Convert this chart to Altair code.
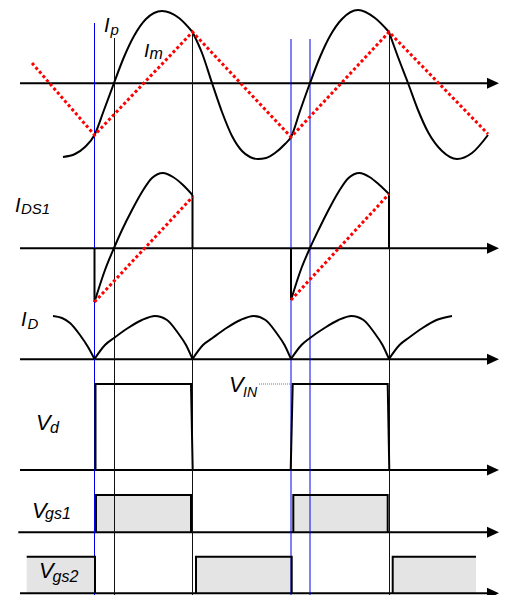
import altair as alt
import pandas as pd

# ---------------- data (diagram units: t = time, v = level, screen-down) -------------
# resonant current Ir, three smooth pieces (kinks where Im peaks)
IR_SEG1 = [(63, 157), (75, 154), (85, 147), (94.5, 135), (104, 110), (114, 83), (124, 57),
           (134, 36), (146, 19), (162, 11), (179, 18), (192.5, 32)]
IR_SEG2 = [(192.5, 32), (202, 53), (212, 83), (222, 112), (232, 136), (242, 151), (250, 157),
           (258, 159), (266, 158), (275, 153), (285, 144), (291, 137), (300, 111), (310, 83),
           (320, 57), (330, 36), (342, 19), (358, 10), (375, 18), (389, 32)]
IR_SEG3 = [(389, 32), (398, 57), (408, 83), (418, 110), (428, 132), (442, 151), (457, 159),
           (472, 153), (488, 135)]
# magnetizing current Im (triangle)
IM = [(32, 63), (94.5, 135), (192.5, 32), (291, 137), (389, 32), (488, 134)]

# switch current IDS1
IDS1_SEG1 = [(94.5, 302), (105, 270), (114, 248), (122, 230), (132, 210), (142, 192),
             (152, 178), (163, 173), (173, 177), (183, 185), (192.5, 195)]
IDS1_SEG2 = [(291, 300), (301.5, 268), (310, 248), (318.5, 230), (328.5, 210), (338.5, 192),
             (348.5, 178), (359.5, 173), (369.5, 177), (379.5, 185), (389, 194)]
IDS1_EDGES = [[(94.5, 248), (94.5, 302)], [(192.5, 195), (192.5, 248)],
              [(291, 248), (291, 300)], [(389, 194), (389, 248)]]
IDS1_IM = [[(94.5, 302), (192.5, 197)], [(291, 300), (389, 194)]]

# rectifier current ID
ID_SEG0 = [(53, 316), (62, 318), (70, 323), (80, 335), (88, 347), (94.5, 359)]
ID_SEG1 = [(94.5, 359), (105, 345), (114, 338), (128, 328), (142, 320), (155, 316),
           (167, 320), (178, 333), (186, 345), (192.5, 359)]
ID_SEG2 = [(192.5, 359), (203, 345), (212.5, 338), (226.5, 328), (240.5, 320), (253.5, 316),
           (265.5, 320), (276.5, 333), (284.5, 345), (291, 359)]
ID_SEG3 = [(291, 359), (301.5, 345), (310, 338), (324.5, 328), (338.5, 320), (351.5, 316),
           (363.5, 320), (374.5, 333), (382.5, 345), (389, 359)]
ID_SEG4 = [(389, 359), (399.5, 345), (408.5, 338), (422.5, 328), (436.5, 320), (452, 316)]

# drain voltage Vd
VD_1 = [(95.5, 470), (95.5, 384), (191, 384), (192.7, 470)]
VD_2 = [(290.7, 470), (292.7, 384), (387.7, 384), (389.3, 470)]
VIN_LEADER = [(259, 384), (292, 384)]

# gate drives
VGS1_ON = [(96, 191), (293.3, 387.7)]
VGS1_HIGH, VGS1_LOW = 495, 532.3
VGS2_ON = [(26.7, 95), (196, 291.7), (392.7, 476)]
VGS2_HIGH, VGS2_LOW = 556.7, 593.3
VGS1_OUT = [[(96, 532.3), (96, 495), (191, 495), (191, 532.3)],
            [(293.3, 532.3), (293.3, 495), (387.7, 495), (387.7, 532.3)]]
VGS2_OUT = [[(26.7, 556.7), (95, 556.7), (95, 593.3)],
            [(196, 593.3), (196, 556.7), (291.7, 556.7), (291.7, 593.3)],
            [(392.7, 593.3), (392.7, 556.7), (476, 556.7)]]

# time axes (baselines) of each trace
AXIS_LEVEL = [83.3, 248.3, 359.3, 470, 532.3, 593.3]
AXIS_START = [20, 20, 20, 20, 18.3, 20]
AXIS_END = 488
ARROW_AT = 493

# event markers
MARK_T = [94.5, 114.5, 192.5, 291, 310, 389.5]
MARK_TOP = [23, 38, 32, 39, 39, 32]
MARK_COLOR = ["#0000ee", "#111111", "#111111", "#0000ee", "#0000ee", "#111111"]
MARK_BOTTOM = 603

# labels: main letter, x, baseline, size | subscript, x, baseline, size
LABELS = [
    ("I", 104, 32, 20, "p", 110.5, 35, 15),
    ("I", 144, 57, 19, "m", 149.5, 59, 16),
    ("I", 15, 212, 20, "DS1", 21, 214, 15),
    ("I", 21, 326, 20, "D", 27.5, 329, 15),
    ("V", 36, 430, 22, "d", 50, 433, 16),
    ("V", 229, 392, 22, "IN", 243, 397, 14),
    ("V", 32, 518, 22, "gs1", 45, 519, 16),
    ("V", 39, 578, 22, "gs2", 52.5, 582, 16),
]

# ---------------- tables ----------------
def seg_table(segs, prefix):
    rows = []
    for k, seg in enumerate(segs):
        for i, (t, v) in enumerate(seg):
            rows.append({"seg": f"{prefix}{k}", "i": i, "t": t, "v": v})
    return pd.DataFrame(rows)

smooth = seg_table([IR_SEG1, IR_SEG2, IR_SEG3, IDS1_SEG1, IDS1_SEG2,
                    ID_SEG0, ID_SEG1, ID_SEG2, ID_SEG3, ID_SEG4], "s")
poly = seg_table(IDS1_EDGES + [VD_1, VD_2] + VGS1_OUT + VGS2_OUT, "p")
red = seg_table([IM] + IDS1_IM, "r")
leader = seg_table([VIN_LEADER], "l")

fills = pd.DataFrame(
    [{"t": a, "t2": b, "v": VGS1_HIGH, "v2": VGS1_LOW} for a, b in VGS1_ON]
    + [{"t": a, "t2": b, "v": VGS2_HIGH, "v2": VGS2_LOW} for a, b in VGS2_ON])
axes = pd.DataFrame({"t": AXIS_START, "t2": [AXIS_END] * 6, "v": AXIS_LEVEL,
                     "ta": [ARROW_AT] * 6})
marks = pd.DataFrame({"t": MARK_T, "v": MARK_TOP, "v2": [MARK_BOTTOM] * 6, "c": MARK_COLOR})
main_lbl = pd.DataFrame([{"txt": r[0], "t": r[1], "v": r[2], "fs": r[3]} for r in LABELS])
sub_lbl = pd.DataFrame([{"txt": r[4], "t": r[5], "v": r[6], "fs": r[7]} for r in LABELS])

# ---------------- scales (one diagram unit = one pixel) ----------------
XS = alt.Scale(domain=[8, 499], nice=False, zero=False)
YS = alt.Scale(domain=[8, 595], nice=False, zero=False, reverse=True)
X = alt.X("t:Q", scale=XS, axis=None)
Y = alt.Y("v:Q", scale=YS, axis=None)
X2 = alt.X2("t2:Q")
Y2 = alt.Y2("v2:Q")

FONT = "Liberation Sans"

l_fill = alt.Chart(fills).mark_rect(fill="#e4e4e4", strokeWidth=0).encode(x=X, x2=X2, y=Y, y2=Y2)
l_axes = alt.Chart(axes).mark_rule(color="black", strokeWidth=2).encode(x=X, x2=X2, y=Y)
l_arrow = alt.Chart(axes).mark_point(
    shape="M -1 -0.92 L 1 0 L -1 0.92 Z", filled=True, fill="black", strokeWidth=0,
    size=144, opacity=1).encode(x=alt.X("ta:Q", scale=XS, axis=None), y=Y)
l_marks = alt.Chart(marks).mark_rule(strokeWidth=1).encode(
    x=X, y=Y, y2=Y2, color=alt.Color("c:N", scale=None))
l_poly = alt.Chart(poly).mark_line(color="black", strokeWidth=2, interpolate="linear").encode(
    x=X, y=Y, detail="seg:N", order="i:Q")
l_smooth = alt.Chart(smooth).mark_line(color="black", strokeWidth=2, interpolate="monotone").encode(
    x=X, y=Y, detail="seg:N", order="i:Q")
l_red = alt.Chart(red).mark_line(color="#ff0000", strokeWidth=3, strokeDash=[3, 2.5],
                                 strokeCap="butt").encode(x=X, y=Y, detail="seg:N", order="i:Q")
l_leader = alt.Chart(leader).mark_line(color="#777777", strokeWidth=1, strokeDash=[1, 1]).encode(
    x=X, y=Y, detail="seg:N", order="i:Q")
l_main = alt.Chart(main_lbl).mark_text(font=FONT, fontStyle="italic", align="left",
                                       baseline="alphabetic", color="black").encode(
    x=X, y=Y, text="txt:N", size=alt.Size("fs:Q", scale=None))
l_sub = alt.Chart(sub_lbl).mark_text(font=FONT, fontStyle="italic", align="left",
                                     baseline="alphabetic", color="black").encode(
    x=X, y=Y, text="txt:N", size=alt.Size("fs:Q", scale=None))

chart = alt.layer(l_fill, l_axes, l_arrow, l_marks, l_poly, l_smooth, l_red, l_leader,
                  l_main, l_sub).properties(
    width=491, height=587, padding=0,
    autosize=alt.AutoSizeParams(type="none"),
    background="white",
).configure_view(strokeWidth=0)

chart.save("out.html", embed_options={"renderer": "svg", "actions": False})
